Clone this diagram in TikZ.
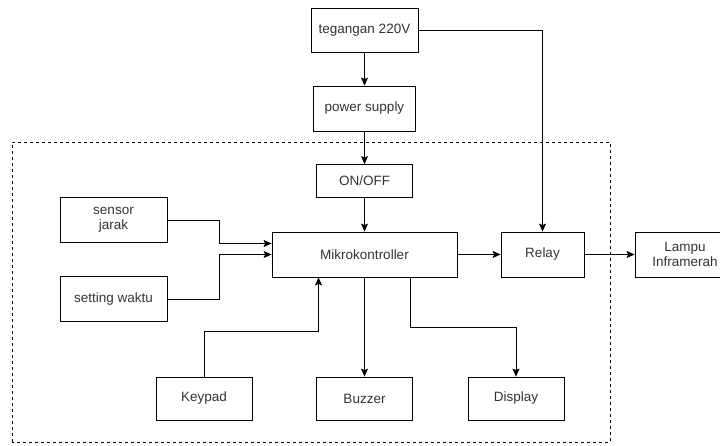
\documentclass[tikz,border=0pt]{standalone}
\usepackage{fontspec}
\setmainfont{Liberation Sans}
\usetikzlibrary{
		arrows.meta,
		calc,
		positioning
	}
\tikzset{
		>={Stealth[length=8pt, width=7pt, inset=1.5pt]},
		blok/.style={draw, line width=0.8pt, align=center, inner sep=0pt,
			font=\fontsize{13.5}{15.5}\selectfont, text=black!80},
		panah/.style={->, line width=0.8pt}
	}

\begin{document}
\begin{tikzpicture}[x=1pt, y=1pt]
\useasboundingbox (0,0) rectangle (720,446);
\draw[dashed, line width=0.7pt] (12,4) rectangle (610,304);
\node[blok, minimum width=107, minimum height=44] (teg) at (364.5,416) {tegangan 220V};
\node[blok, minimum width=102, minimum height=45] (ps) at (364.5,337.5) {power supply};
\node[blok, minimum width=96, minimum height=33] (onoff) at (364.5,265) {ON/OFF};
\node[blok, minimum width=185, minimum height=45] (mikro) at (364.5,191.5) {Mikrokontroller};
\node[blok, minimum width=83, minimum height=45] (relay) at (542.5,191.5) {Relay};
\node[blok, minimum width=100, minimum height=45] (lampu) at (685,191.5) {Lampu\\Inframerah};
\node[blok, minimum width=107, minimum height=45] (sensor) at (113.5,226) {sensor\\jarak};
\node[blok, minimum width=107, minimum height=45] (waktu) at (113.5,147) {setting waktu};
\node[blok, minimum width=96, minimum height=43] (keypad) at (204,47.5) {Keypad};
\node[blok, minimum width=96, minimum height=43] (buzzer) at (364.5,47.5) {Buzzer};
\node[blok, minimum width=96, minimum height=43] (display) at (516,47.5) {Display};
% jalur daya
\draw[panah] (teg) -- (ps);
\draw[panah] (ps) -- (onoff);
\draw[panah] (onoff) -- (mikro);
\draw[panah] (teg.east) -| (relay.north);
% masukan
\draw[panah] (sensor.east) -- ++(52,0) |- ($(mikro.west)+(0,11)$);
\draw[panah] (waktu.east) -- ++(52,0) |- (mikro.west);
\draw[panah] (keypad.north) -- ++(0,45) -| ($(mikro.south)+(-46,0)$);
% keluaran
\draw[panah] (mikro) -- (buzzer);
\draw[panah] ($(mikro.south)+(46,0)$) -- ++(0,-50) -| (display.north);
\draw[panah] (mikro) -- (relay);
\draw[panah] (relay) -- (lampu);
\end{tikzpicture}
\end{document}
